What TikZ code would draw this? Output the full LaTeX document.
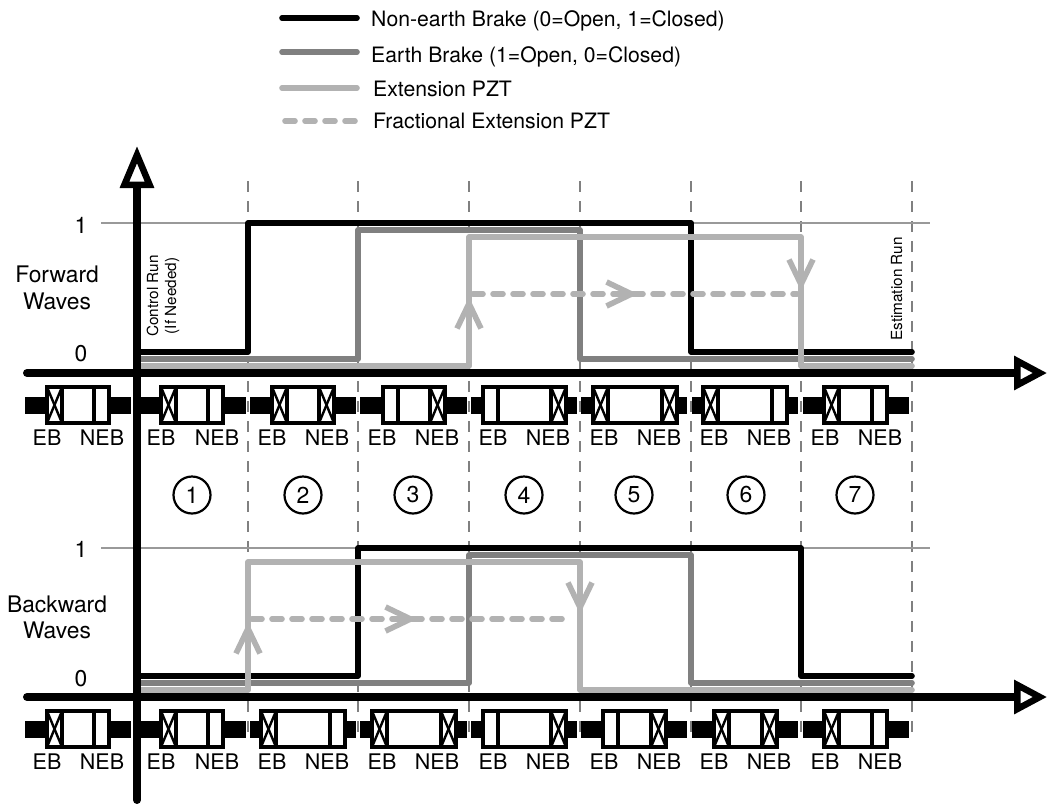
\documentclass[tikz,border=0pt]{standalone}
\usepackage{fontspec}
\setmainfont{TeX Gyre Heros}
\usetikzlibrary{arrows.meta}

\begin{document}
\begin{tikzpicture}[x=1pt,y=-1pt,
  axis/.style={draw=black,line width=8pt,line cap=round},
  ne/.style={draw=black,line width=5.6pt,line join=round,line cap=round},
  ea/.style={draw=black!50,line width=5.6pt,line join=round,line cap=round},
  pz/.style={draw=black!30,line width=5.6pt,line join=round,line cap=round},
  fr/.style={draw=black!30,line width=5.6pt,line cap=round,dash pattern=on 10pt off 10pt},
  vee/.style={draw=black!30,line width=5.6pt,-{Straight Barb[length=25pt,width=24pt]}},
  lvl/.style={draw=black!40,line width=1.2pt},
  sep/.style={draw=black!50,line width=1.2pt,dash pattern=on 11pt off 9pt},
  bar/.style={fill=black},
  box/.style={draw=black,fill=white,line width=3.4pt},
  crs/.style={draw=black,line width=2.4pt},
  lab/.style={font=\fontsize{21.5}{24}\selectfont,inner sep=0pt,anchor=base},
  big/.style={font=\fontsize{22.8}{26}\selectfont,inner sep=0pt,anchor=base},
  leg/.style={font=\fontsize{21.2}{24}\selectfont,inner sep=0pt,anchor=base west},
  rot/.style={font=\fontsize{15.3}{18}\selectfont,inner sep=0pt,anchor=base,rotate=90},
  num/.style={circle,draw=black,line width=2.2pt,minimum size=37pt,inner sep=0pt,font=\fontsize{23}{26}\selectfont}]
  \useasboundingbox (0,0) rectangle (1048,803);
  % ---------- legend ----------
  \draw[ne] (282,18) -- (357,18);
  \draw[ea] (282,52) -- (357,52);
  \draw[pz] (282,88) -- (357,88);
  \draw[fr] (285,121) -- (357,121);
  \node[leg] (legne) at (371,26) {Non-earth Brake (0=Open, 1=Closed)};
  \node[leg] (legea) at (371,62) {Earth Brake (1=Open, 0=Closed)};
  \node[leg] (legpz) at (373,96) {Extension PZT};
  \node[leg] (legfr) at (373,128) {Fractional Extension PZT};
  % ---------- section separators and levels ----------
  \foreach \x [count=\i] in {248,358,469,580,691,801,912} {
    \draw[sep] (\x,181) -- (\x,737);
  }
  \foreach \y in {223,548} {
    \draw[lvl] (101,\y) -- (930,\y);
  }
  % ---------- forward waves ----------
  \draw[ne] (137,352) -- (248,352) -- (248,223) -- (691,223) -- (691,352) -- (912,352);
  \draw[ea] (137,359) -- (358,359) -- (358,230) -- (580,230) -- (580,359) -- (912,359);
  \draw[pz] (137,366) -- (469,366) -- (469,237) -- (801,237) -- (801,366) -- (912,366);
  \draw[fr] (473,294) -- (797,294);
  \draw[vee] (469,304) -- (469,297);
  \draw[vee] (630,294) -- (638,294);
  \draw[vee] (801,283) -- (801,291);
  % ---------- backward waves ----------
  \draw[ne] (137,676) -- (358,676) -- (358,548) -- (801,548) -- (801,676) -- (912,676);
  \draw[ea] (137,683) -- (469,683) -- (469,555) -- (691,555) -- (691,683) -- (912,683);
  \draw[pz] (137,690) -- (248,690) -- (248,562) -- (580,562) -- (580,690) -- (912,690);
  \draw[fr] (252,619) -- (572,619);
  \draw[vee] (248,629) -- (248,622);
  \draw[vee] (409,619) -- (417,619);
  \draw[vee] (580,606) -- (580,614);
  % ---------- axes ----------
  \draw[axis,-{Triangle[open,length=42pt,width=33pt,line width=6.5pt]}] (137,800) -- (137,146);
  \foreach \y in {373,697} {
    \draw[axis,-{Triangle[open,length=33pt,width=33pt,line width=6.5pt]}] (27,\y) -- (1047,\y);
  }
  % ---------- brakes: bar ends, then box ends, then crossed cells ----------
  \foreach \yb/\boxes/\crosses in {
    405/{47/109,161/223,272/334,383/445,483/566,593/677,703/787,824/887}/{47,161,272,319,430,551,593,662,703,824},
    729/{47/109,161/223,261/345,372/456,483/566,603/666,714/777,824/887}/{47,161,261,372,441,551,651,714,762,824}} {
    \foreach \xa/\xb in {25/131,141/246,250/356,360/467,471/577,581/687,692/798,803/909} {
      \fill[bar] (\xa,\yb-8.5) rectangle (\xb,\yb+8.5);
    }
    \foreach \xa/\xb in \boxes {
      \draw[box] (\xa,\yb-18) rectangle (\xb,\yb+18);
      \draw[box] (\xa,\yb-18) rectangle (\xa+15,\yb+18);
      \draw[box] (\xb-15,\yb-18) rectangle (\xb,\yb+18);
    }
    \foreach \xa in \crosses {
      \draw[crs] (\xa,\yb-18) -- (\xa+15,\yb+18);
      \draw[crs] (\xa+15,\yb-18) -- (\xa,\yb+18);
    }
  }
  \foreach \xe/\xn [count=\i] in {47/102,161/217,272/327,382/437,493/548,604/659,714/769,825/880} {
    \node[lab] (ebf\i) at (\xe,445) {EB};
    \node[lab] (nebf\i) at (\xn,445) {NEB};
    \node[lab] (ebb\i) at (\xe,769) {EB};
    \node[lab] (nebb\i) at (\xn,769) {NEB};
  }
  % ---------- section numbers ----------
  \foreach \x [count=\i] in {192,303,413,524,634,746,855} {
    \node[num,fill=white] (sec\i) at (\x,495) {\i};
  }
  % ---------- labels ----------
  \node[big] (onef) at (81,233) {1};
  \node[big] (zerof) at (81,361) {0};
  \node[big] (oneb) at (81,557) {1};
  \node[big] (zerob) at (81,686) {0};
  \node[big] (fwd) at (57,282) {Forward};
  \node[big] (fwdw) at (57,309) {Waves};
  \node[big] (bwd) at (57,612) {Backward};
  \node[big] (bwdw) at (57,638) {Waves};
  \node[rot] (ctrl) at (158,296) {Control Run};
  \node[rot] (need) at (176,296) {(If Needed)};
  \node[rot] (esti) at (902,289) {Estimation Run};
\end{tikzpicture}
\end{document}
